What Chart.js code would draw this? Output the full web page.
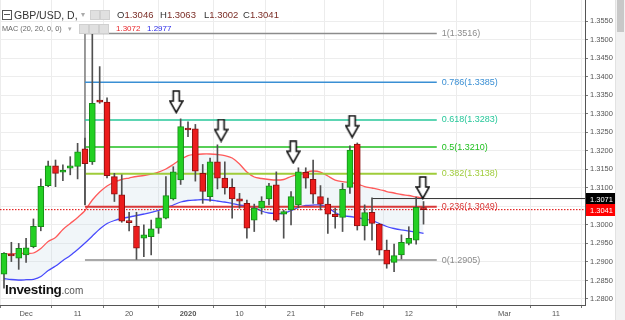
<!DOCTYPE html>
<html><head><meta charset="utf-8">
<script src="https://cdn.jsdelivr.net/npm/chart.js@4.4.1/dist/chart.umd.min.js"></script>
<style>
html,body{margin:0;padding:0;background:#fff;}
#wrap{position:relative;width:625px;height:320px;overflow:hidden;font-family:Arial,"Liberation Sans",sans-serif;}
#c{position:absolute;left:0;top:0;}
.sb{position:absolute;left:615px;top:0;width:10px;height:320px;background:#f1f1f1;border-left:1px solid #e2e2e2;box-sizing:border-box;}
.thumb{position:absolute;left:617px;top:0;width:7px;height:32px;background:#c8c8c8;}
.ov{position:absolute;white-space:nowrap;line-height:1;}
.ico{position:absolute;width:8px;height:8px;background:#e0e0e0;border:1px solid #d0d0d0;}
</style></head>
<body><div id="wrap">
<canvas id="c" width="625" height="320"></canvas>
<div class="sb"></div><div class="thumb"></div>
<div class="ov" style="left:2px;top:10px;width:8px;height:8px;border:1px solid #555;"></div>
<div class="ov" style="left:4px;top:14px;width:6px;height:1px;background:#555;"></div>
<div class="ov" style="left:14px;top:10px;font-size:10.5px;color:#333;">GBP/USD, D,</div>
<div class="ov" style="left:81px;top:11px;font-size:8px;color:#aaa;">&#9662;</div>
<div class="ico" style="left:90px;top:10px;"></div><div class="ico" style="left:100px;top:10px;"></div>
<div class="ov" style="left:117px;top:10px;font-size:9.5px;color:#333;">O<span style="color:#7b2d26">1.3046</span></div>
<div class="ov" style="left:160px;top:10px;font-size:9.5px;color:#333;">H<span style="color:#7b2d26">1.3063</span></div>
<div class="ov" style="left:204px;top:10px;font-size:9.5px;color:#333;">L<span style="color:#7b2d26">1.3002</span></div>
<div class="ov" style="left:243px;top:10px;font-size:9.5px;color:#333;">C<span style="color:#7b2d26">1.3041</span></div>
<div class="ov" style="left:2px;top:25px;font-size:7.3px;color:#666;">MAC (20, 20, 0, 0)</div>
<div class="ov" style="left:68px;top:25px;font-size:7px;color:#aaa;">&#9662;</div>
<div class="ico" style="left:79px;top:24px;"></div><div class="ico" style="left:89px;top:24px;"></div><div class="ico" style="left:99px;top:24px;"></div>
<div class="ov" style="left:116px;top:25px;font-size:8px;color:#e8262b;">1.3072</div>
<div class="ov" style="left:147px;top:25px;font-size:8px;color:#2a2ae8;">1.2977</div>
<div class="ov" style="left:5px;top:283px;font-size:13.5px;font-weight:bold;color:#111;letter-spacing:-0.3px;">Investing<span style="font-size:10px;font-weight:normal;color:#555;letter-spacing:0;">.com</span></div>
</div>
<script>
// ---- data ----
const tickIdx    = [3, 10, 17, 25, 32, 39, 48, 55, 68, 75];
const tickLabels = ['Dec','11','20','2020','10','21','Feb','12','Mar','11'];
const yTicks = [1.2800,1.2850,1.2900,1.2950,1.3000,1.3050,1.3100,1.3150,1.3200,1.3250,1.3300,1.3350,1.3400,1.3450,1.3500,1.3550];

const opens  = [1.2867,1.2921,1.2910,1.2919,1.2941,1.2995,1.3106,1.3159,1.3142,1.3153,1.3158,1.3205,1.3170,1.3337,1.3331,1.3130,1.3081,1.3011,1.2997,1.2964,1.2968,1.2991,1.3018,1.3070,1.3121,1.3261,1.3259,1.3139,1.3076,1.3170,1.3126,1.3101,1.3070,1.3058,1.3013,1.3045,1.3070,1.3108,1.3029,1.3040,1.3054,1.3142,1.3123,1.3076,1.3056,1.3029,1.3020,1.3101,1.3218,1.2997,1.3034,1.3002,1.2932,1.2899,1.2919,1.2950,1.2959,1.3046];
const highs  = [1.2925,1.2953,1.2950,1.2964,1.3016,1.3124,1.3172,1.3175,1.3162,1.3184,1.3220,1.3234,1.3516,1.3427,1.3343,1.3139,1.3135,1.3034,1.3034,1.3000,1.3013,1.3036,1.3130,1.3157,1.3286,1.3278,1.3271,1.3163,1.3180,1.3216,1.3170,1.3124,1.3085,1.3067,1.3056,1.3076,1.3112,1.3143,1.3039,1.3090,1.3154,1.3154,1.3175,1.3106,1.3072,1.3045,1.3112,1.3213,1.3221,1.3054,1.3073,1.3004,1.2959,1.2948,1.2973,1.2995,1.3075,1.3063];
const lows   = [1.2829,1.2901,1.2880,1.2899,1.2938,1.2984,1.3103,1.3103,1.3119,1.3135,1.3124,1.3054,1.3163,1.3328,1.3127,1.3063,1.3007,1.2984,1.2907,1.2914,1.2919,1.2977,1.3016,1.3067,1.3109,1.3238,1.3118,1.3058,1.3064,1.3097,1.3083,1.3018,1.3045,1.2964,1.2982,1.3029,1.3054,1.3009,1.2964,1.3000,1.3046,1.3099,1.3058,1.3040,1.2977,1.2991,1.2982,1.3085,1.2986,1.2959,1.2959,1.2919,1.2883,1.2874,1.2908,1.2946,1.2948,1.3002];
const closes = [1.2923,1.2916,1.2937,1.2938,1.2996,1.3104,1.3159,1.3139,1.3148,1.3159,1.3197,1.3165,1.3328,1.3331,1.3133,1.3083,1.3010,1.3006,1.2937,1.2973,1.2989,1.3019,1.3079,1.3143,1.3265,1.3256,1.3145,1.3090,1.3170,1.3126,1.3100,1.3070,1.3064,1.2991,1.3045,1.3064,1.3105,1.3013,1.3036,1.3076,1.3143,1.3126,1.3083,1.3056,1.3029,1.3022,1.3096,1.3202,1.2997,1.3033,1.3004,1.2932,1.2894,1.2917,1.2953,1.2964,1.3047,1.3041];

const maUpper = [1.29214,1.29222,1.29228,1.29233,1.29241,1.29363,1.29551,1.29659,1.29875,1.30037,1.30199,1.30388,1.30671,1.30887,1.31049,1.31157,1.31224,1.31264,1.31305,1.31332,1.31372,1.31426,1.31507,1.31629,1.31764,1.31871,1.31898,1.31912,1.31912,1.31898,1.31871,1.31804,1.31642,1.31426,1.31291,1.31251,1.31224,1.31210,1.31224,1.31305,1.31372,1.31426,1.31453,1.31426,1.31318,1.31210,1.31165,1.31143,1.31103,1.31035,1.30995,1.30954,1.30900,1.30860,1.30819,1.30792,1.30752,1.3072];
const maLower = [1.28553,1.28526,1.28513,1.28521,1.28532,1.28607,1.28769,1.28890,1.29039,1.29174,1.29336,1.29511,1.29700,1.29889,1.30037,1.30118,1.30172,1.30212,1.30253,1.30293,1.30334,1.30388,1.30455,1.30536,1.30617,1.30657,1.30671,1.30684,1.30671,1.30644,1.30617,1.30576,1.30536,1.30509,1.30469,1.30374,1.30320,1.30307,1.30312,1.30388,1.30469,1.30523,1.30536,1.30536,1.30469,1.30334,1.30247,1.30226,1.30193,1.30158,1.30118,1.30037,1.29956,1.29902,1.29862,1.29835,1.29808,1.2977];

const fibRatios = ['1','0.786','0.618','0.5','0.382','0.236','0'];
const fibLevels = [1.3516,1.3385,1.3283,1.3210,1.3138,1.3049,1.2905];
const fibColors = ['#8c8c8c','#3a8fd4','#27c79a','#1fbf1f','#9fcc3a','#d93838','#8c8c8c'];
const fibWidths = [1.5,1.5,1.5,1.5,2,2,1.5];
const fibStartIdx = 11, fibEndIdx = 58.8, fibTrendEnd = 1.3054;

const arrowX = [23.4, 29.5, 39.3, 47.3, 56.9];
const arrowY = [1.33315, 1.32546, 1.31958, 1.32648, 1.30995];

const resistLevel = 1.3071, resistStartIdx = 50;
const lastClose = 1.3041;
const xMin = -0.5435, xMax = 78.94;
const yMin = 1.27838, yMax = 1.36067;

// ---- build ----
const idx = opens.map((_, i) => i);
const up = idx.map(i => closes[i] >= opens[i]);

const arrowImg = (() => {
  const c = document.createElement('canvas'); c.width = 15; c.height = 24;
  const g = c.getContext('2d');
  g.beginPath();
  g.moveTo(4.5, 1); g.lineTo(10.5, 1); g.lineTo(10.5, 11); g.lineTo(14, 11);
  g.lineTo(7.5, 22.5); g.lineTo(1, 11); g.lineTo(4.5, 11); g.closePath();
  g.fillStyle = '#fff'; g.fill(); g.lineWidth = 1.6; g.strokeStyle = '#111'; g.stroke();
  return c;
})();

const datasets = [];
fibLevels.forEach((lv, k) => {
  datasets.push({type:'line', data:[{x:fibStartIdx,y:lv},{x:fibEndIdx,y:lv}], borderColor:fibColors[k],
    borderWidth:fibWidths[k], pointRadius:0, fill:false, order:8});
});
datasets.push({type:'line', data:[{x:fibStartIdx,y:fibLevels[0]},{x:fibStartIdx,y:fibTrendEnd}], borderColor:'#8c8c8c', borderWidth:1, pointRadius:0, order:8});
datasets.push({type:'line', data:[{x:resistStartIdx,y:resistLevel},{x:xMax,y:resistLevel}], borderColor:'#333', borderWidth:1, pointRadius:0, order:8});
datasets.push({type:'line', data:[{x:xMin,y:lastClose},{x:xMax,y:lastClose}], borderColor:'#e00000', borderWidth:1, borderDash:[1.5,1.5], pointRadius:0, order:7});
datasets.push({type:'line', data:idx.map(i=>({x:i,y:maUpper[i]})), borderColor:'#ff5a5a', borderWidth:1.3, pointRadius:0,
  fill:'+1', backgroundColor:'rgba(190,212,228,0.22)', tension:0.3, order:10});
datasets.push({type:'line', data:idx.map(i=>({x:i,y:maLower[i]})), borderColor:'#3b3bff', borderWidth:1.3, pointRadius:0, fill:false, tension:0.3, order:10});
datasets.push({type:'bar', data:idx.map(i=>({x:i,y:[lows[i],highs[i]]})), backgroundColor:'#505050', barThickness:1, grouped:false, order:3});
datasets.push({type:'bar', data:idx.map(i=>({x:i,y:[opens[i],closes[i]]})), backgroundColor:idx.map(i=>up[i]?'#22d022':'#ec1c1c'),
  borderColor:idx.map(i=>up[i]?'#178a17':'#8c1010'), borderWidth:1, borderSkipped:false, barThickness:6, minBarLength:2, grouped:false, order:2});
datasets.push({type:'scatter', data:arrowX.map((x,k)=>({x, y:arrowY[k]})), pointStyle:arrowImg, pointRadius:8, order:0});

const overlay = {
  id:'overlay',
  afterDatasetsDraw(chart){
    const g = chart.ctx, xs = chart.scales.x, ys = chart.scales.y;
    g.save();
    g.font = '9px Arial, "Liberation Sans", sans-serif';
    g.textBaseline = 'middle'; g.textAlign = 'left';
    fibLevels.forEach((lv,k)=>{
      g.fillStyle = fibColors[k];
      g.fillText(fibRatios[k] + '(' + lv.toFixed(4) + ')', xs.getPixelForValue(fibEndIdx) + 5, ys.getPixelForValue(lv));
    });
    g.restore();
  },
  afterDraw(chart){
    const g = chart.ctx, ys = chart.scales.y, a = chart.chartArea;
    g.save();
    g.font = '7.5px Arial, "Liberation Sans", sans-serif';
    g.textBaseline = 'middle'; g.textAlign = 'left';
    [[resistLevel,'#000'],[lastClose,'#f00']].forEach(([v,c])=>{
      const py = Math.round(ys.getPixelForValue(v));
      g.fillStyle = c; g.fillRect(a.right+1, py-6, 30, 12);
      g.fillStyle = '#fff'; g.fillText(v.toFixed(4), a.right+5, py+0.5);
    });
    g.restore();
  }
};

new Chart(document.getElementById('c'), {
  type:'bar',
  data:{datasets},
  options:{
    responsive:false, animation:false, devicePixelRatio:1,
    layout:{autoPadding:false, padding:{left:0,right:10,top:0,bottom:0}},
    plugins:{legend:{display:false}, tooltip:{enabled:false}},
    scales:{
      x:{type:'linear', min:xMin, max:xMax, offset:false,
        afterBuildTicks(s){ s.ticks = tickIdx.map(v=>({value:v})); },
        afterFit(s){ s.height = 15; s.paddingLeft = 0; s.paddingRight = 0; },
        ticks:{autoSkip:false, maxRotation:0, padding:1, color:'#555',
          callback:(v)=>{ const k = tickIdx.indexOf(v); return k>=0 ? tickLabels[k] : ''; },
          font:(ctx)=>({size:7.5, family:'Arial, "Liberation Sans", sans-serif', weight: (ctx.tick && ctx.tick.label==='2020') ? 'bold' : 'normal'})},
        grid:{color:'#ececec', tickColor:'#777', tickLength:3, drawTicks:true},
        border:{color:'#555', width:1}
      },
      y:{type:'linear', position:'right', min:yMin, max:yMax,
        afterBuildTicks(s){ s.ticks = yTicks.map(v=>({value:v})); },
        afterFit(s){ s.width = 30; s.paddingTop = 0; s.paddingBottom = 0; },
        ticks:{padding:2, color:'#555', callback:(v)=>v.toFixed(4), font:{size:7.5, family:'Arial, "Liberation Sans", sans-serif'}},
        grid:{color:'#ededed', tickColor:'#777', tickLength:3},
        border:{color:'#555', width:1}
      }
    }
  },
  plugins:[overlay]
});
</script>
</body></html>
